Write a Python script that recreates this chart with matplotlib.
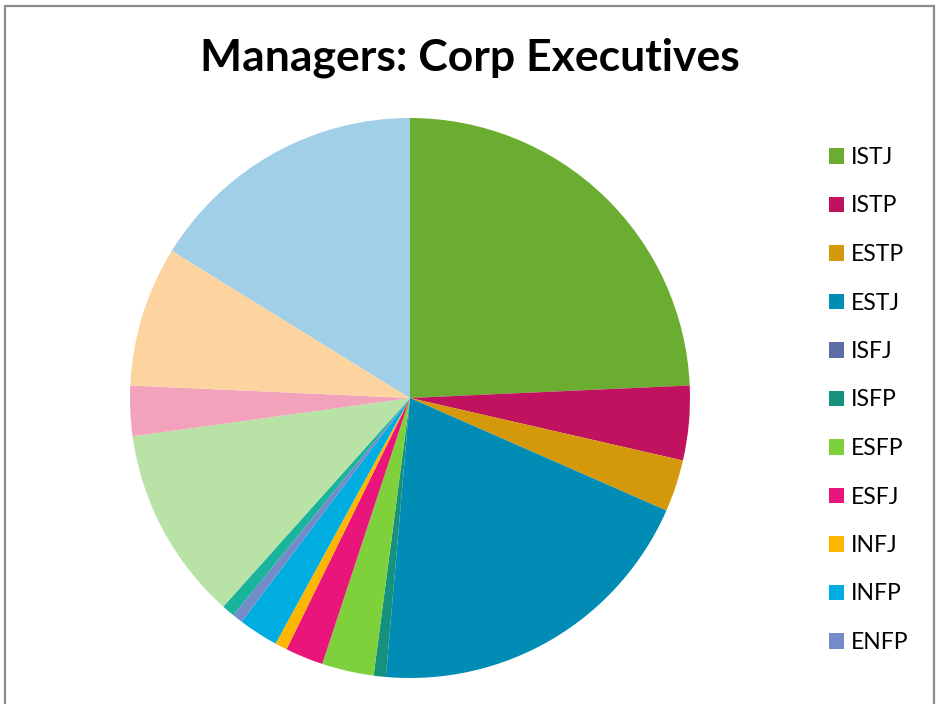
import matplotlib
matplotlib.use("Agg")
import matplotlib.pyplot as plt
from matplotlib.patches import Rectangle

# MBTI types, clockwise from 12 o'clock
types = ["ISTJ", "ISTP", "ESTP", "ESTJ", "ISFJ", "ISFP", "ESFP", "ESFJ",
         "INFJ", "INFP", "ENFP", "ENFJ", "INTJ", "INTP", "ENTP", "ENTJ"]
# share in percent
shares = [24.3, 4.3, 3.0, 19.8, 0.0, 0.7, 3.0, 2.2,
          0.7, 2.3, 0.6, 0.75, 11.2, 2.9, 8.1, 16.2]
colors = ["#6aad30", "#c0125f", "#d3990a", "#008cb5", "#5d6ea6", "#15917e",
          "#7fd13b", "#ea157a", "#ffb600", "#00ade0", "#748bc9", "#1ab39c",
          "#b9e2a7", "#f2a3bb", "#fdd49f", "#a1cfe8"]
n_legend = 11  # legend is cut off after ENFP

plt.rcParams['font.family'] = ['Lato', 'DejaVu Sans']

W, H = 937, 704
fig = plt.figure(figsize=(W / 100, H / 100), dpi=100)

# pie center (410, 398) px, radius 280 px
cx, cy, r = 410, 398, 280
ax = fig.add_axes([(cx - r) / W, (H - cy - r) / H, 2 * r / W, 2 * r / H])
wedges, _ = ax.pie(shares, colors=colors, startangle=90, counterclock=False,
                   radius=1.0, wedgeprops=dict(linewidth=0))
ax.set_xlim(-1, 1)
ax.set_ylim(-1, 1)
ax.set_aspect("equal")
ax.axis("off")

fig.text(470 / W, 1 - 58 / H, "Managers: Corp Executives", ha="center",
         va="center", fontsize=32, fontweight="bold", color="#000000")

leg = fig.legend(wedges[:n_legend], types[:n_legend],
                 loc="upper left", bbox_to_anchor=(829 / W, 1 - 147 / H),
                 frameon=False, fontsize=16.5, handlelength=0.65,
                 handleheight=0.65, handletextpad=0.3, labelspacing=1.2,
                 borderaxespad=0, borderpad=0)

# chart frame (bottom edge lies below the crop)
fig.patches.append(Rectangle((5 / W, -0.05), 929 / W, 1.05 - 5.5 / H,
                             transform=fig.transFigure, fill=False,
                             edgecolor="#8c8c8c", linewidth=1.6))

fig.savefig("out.png", dpi=100)
